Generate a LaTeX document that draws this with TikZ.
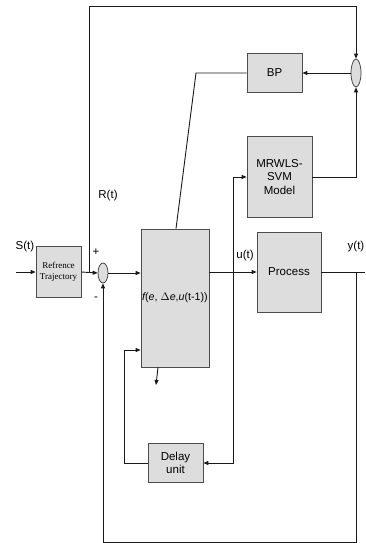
\documentclass[tikz,border=0pt]{standalone}
\usepackage{fontspec}
\setmainfont{Liberation Sans}
\newfontfamily\trajfont{Liberation Serif}
\usepackage{tikz}
\usetikzlibrary{shapes.geometric, arrows.meta, positioning, calc}
\tikzset{
  block/.style 2 args={
    rectangle, draw=black!70, line width=0.7pt, fill=gray!27,
    minimum width=#1pt, minimum height=#2pt, inner sep=0pt,
    align=center, font=\fontsize{11.5}{13.5}\selectfont
  },
  junc/.style={
    ellipse, draw=black!80, line width=0.7pt, fill=gray!27,
    minimum width=10pt, minimum height=#1pt, inner sep=0pt
  },
  lbl/.style={inner sep=0pt, font=\fontsize{11.5}{13.5}\selectfont},
  wire/.style={line width=0.9pt, black!90},
  arrow/.style={-{Triangle[length=5pt,width=4pt]}, line width=0.9pt, black!90}
}
\begin{document}
\begin{tikzpicture}[x=1pt, y=-1pt]
  \useasboundingbox (0,0) rectangle (365,543);

  % blocks
  \node[block={45}{51}, font=\trajfont\fontsize{9}{11}\selectfont] (ref) at (58.5,272) {Refrence\\Trajectory};
  \node[junc=20]         (sum)   at (103,273)   {};
  \node[block={68}{138}] (ctrl)  at (175,298)   {\fontsize{10.7}{12}\selectfont$\mathit{f}$(\textit{e}, $\Delta$\textit{e},\textit{u}(t-1))};
  \node[block={55}{39}]  (bp)    at (274.5,73)  {BP};
  \node[junc=28]         (err)   at (356,73)    {};
  \node[block={65}{81}]  (mrw)   at (279.5,177) {MRWLS-\\SVM\\Model};
  \node[block={64}{80}]  (proc)  at (289,272)   {Process};
  \node[block={55}{39}]  (delay) at (175.5,463) {Delay\\unit};

  % labels
  \node[lbl] (st) at (25,247)  {S(t)};
  \node[lbl] (rt) at (108,196) {R(t)};
  \node[lbl] (ut) at (245,256) {u(t)};
  \node[lbl, anchor=west] (yt) at (347.5,247) {y(t)};
  \node[lbl] (pl) at (96,252)  {+};
  \node[lbl] (mi) at (96,299)  {-};

  % free ends and bends
  \coordinate (sin)  at (16,272);
  \coordinate (rj)   at (89,272);
  \coordinate (top)  at (89,6);
  \coordinate (tap)  at (233,272);
  \coordinate (yj)   at (356,272);
  \coordinate (yend) at (365,272);
  \coordinate (fb)   at (356,542);
  \coordinate (dl)   at (124,350);
  \coordinate (bk)   at (196,73);
  \coordinate (cb)   at (156,385);

  % connectors
  \draw[arrow] (sin) -- (ref.west);
  \draw[arrow] (ref.east) -- (sum.west);
  \draw[arrow] (rj) -- (top) -| (err.north);
  \draw[arrow] (sum.east) -- (ctrl.west |- sum.east);
  \draw[arrow] (ctrl.east |- proc.west) -- (proc.west);
  \draw[arrow] (tap) |- (mrw.west);
  \draw[arrow] (tap) |- (delay.east);
  \draw[arrow] (delay.west) -| (dl) -- (dl -| ctrl.west);
  \draw[arrow] ([xshift=-17pt]ctrl.south) -- (cb);
  \draw[wire]  (proc.east) -- (yend);
  \draw[arrow] (yj) -- (fb) -| (sum.south);
  \draw[arrow] (mrw.east) -| (err.south);
  \draw[arrow] (err.west) -- (bp.east);
  \draw[wire]  (bp.west) -- (bk) -- ([xshift=1pt]ctrl.north);
\end{tikzpicture}
\end{document}
